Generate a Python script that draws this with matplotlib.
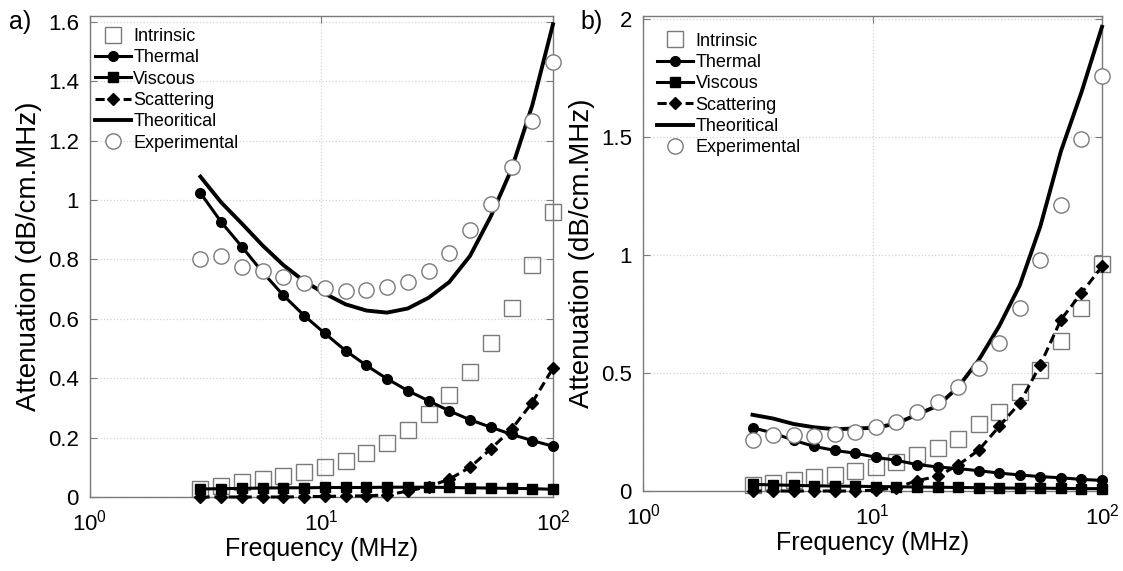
#!/usr/bin/env python3
"""Attenuation vs frequency: contributions (a) and (b)."""
import matplotlib
matplotlib.use("Agg")
import matplotlib.pyplot as plt
from matplotlib.ticker import FuncFormatter

plt.rcParams["font.family"] = ["Liberation Sans", "DejaVu Sans"]
plt.rcParams["mathtext.default"] = "regular"

freq = [3.0, 3.69, 4.53, 5.57, 6.85, 8.42, 10.34, 12.71, 15.63,
        19.21, 23.61, 29.02, 35.66, 43.83, 53.88, 66.22, 81.39, 100.0]

# ---- panel a ----
a_intrinsic = [0.028, 0.038, 0.049, 0.060, 0.071, 0.084, 0.100, 0.121, 0.149,
               0.183, 0.224, 0.279, 0.342, 0.421, 0.518, 0.636, 0.783, 0.961]
a_thermal = [1.024, 0.926, 0.843, 0.757, 0.679, 0.611, 0.551, 0.493, 0.443,
             0.398, 0.358, 0.324, 0.290, 0.260, 0.235, 0.211, 0.190, 0.171]
a_viscous = [0.027, 0.028, 0.029, 0.030, 0.031, 0.031, 0.032, 0.032, 0.032,
             0.033, 0.033, 0.033, 0.032, 0.031, 0.030, 0.029, 0.028, 0.026]
a_scatter = [0.0, 0.0, 0.0, 0.0, 0.0, 0.001, 0.002, 0.003, 0.004,
             0.007, 0.020, 0.035, 0.060, 0.100, 0.162, 0.228, 0.318, 0.434]
a_theory = [1.079, 0.992, 0.921, 0.847, 0.781, 0.727, 0.685, 0.649, 0.628,
            0.621, 0.635, 0.671, 0.724, 0.812, 0.945, 1.104, 1.319, 1.592]
a_exp = [0.802, 0.812, 0.774, 0.760, 0.740, 0.720, 0.703, 0.694, 0.696,
         0.707, 0.725, 0.760, 0.821, 0.900, 0.987, 1.111, 1.267, 1.464]

# ---- panel b ----
b_intrinsic = [0.027, 0.035, 0.045, 0.059, 0.069, 0.085, 0.102, 0.124, 0.151,
               0.181, 0.220, 0.282, 0.336, 0.419, 0.514, 0.634, 0.777, 0.960]
b_thermal = [0.268, 0.246, 0.215, 0.189, 0.172, 0.160, 0.143, 0.130, 0.112,
             0.102, 0.095, 0.086, 0.076, 0.068, 0.061, 0.056, 0.049, 0.045]
b_viscous = [0.028, 0.026, 0.024, 0.022, 0.021, 0.020, 0.019, 0.018, 0.017,
             0.016, 0.015, 0.014, 0.013, 0.012, 0.012, 0.011, 0.010, 0.010]
b_scatter = [0.0, 0.0, 0.0, 0.0, 0.0, 0.0, 0.004, 0.014, 0.044,
             0.062, 0.110, 0.173, 0.274, 0.373, 0.535, 0.726, 0.839, 0.952]
b_theory = [0.323, 0.307, 0.284, 0.270, 0.262, 0.265, 0.268, 0.286, 0.324,
            0.361, 0.440, 0.555, 0.699, 0.872, 1.122, 1.440, 1.690, 1.967]
b_exp = [0.218, 0.236, 0.236, 0.232, 0.243, 0.250, 0.271, 0.292, 0.335,
         0.377, 0.441, 0.521, 0.627, 0.777, 0.977, 1.214, 1.492, 1.759]

GRAY = "#7a7a7a"


def draw(ax, intr, therm, visc, scat, theo, exp, ymax, yticks, leg_anchor):
    ax.plot(freq, intr, ls="none", marker="s", ms=11, mfc="none", mec=GRAY,
            mew=1.0, clip_on=False, label="Intrinsic", zorder=3)
    ax.plot(freq, therm, "-", color="k", lw=2.2, marker="o", ms=7,
            clip_on=False, label="Thermal", zorder=4)
    ax.plot(freq, visc, "-", color="k", lw=2.2, marker="s", ms=7,
            clip_on=False, label="Viscous", zorder=4)
    ax.plot(freq, scat, "--", color="k", lw=2.2, marker="D", ms=6.5,
            dashes=(3, 1.6), clip_on=False, label="Scattering", zorder=4)
    ax.plot(freq, theo, "-", color="k", lw=2.8, clip_on=False,
            label="Theoritical", zorder=5)
    ax.plot(freq, exp, ls="none", marker="o", ms=11, mfc="white", mec=GRAY,
            mew=1.0, clip_on=False, label="Experimental", zorder=6)

    ax.set_xscale("log")
    ax.set_xlim(1, 100)
    ax.set_ylim(0, ymax)
    ax.set_xticks([1, 10, 100])
    ax.minorticks_off()
    ax.set_yticks(yticks)
    ax.yaxis.set_major_formatter(FuncFormatter(lambda v, p: f"{v:g}"))
    ax.tick_params(direction="in", top=True, right=True, length=5,
                   color=GRAY, labelsize=16, pad=8)
    ax.tick_params(axis="x", pad=9)
    for s in ax.spines.values():
        s.set_color(GRAY)
        s.set_linewidth(1.0)
    ax.grid(True, ls=":", color="#d4d4d4", lw=0.9)
    ax.set_axisbelow(True)
    ax.set_xlabel("Frequency (MHz)", fontsize=18, labelpad=1)
    ax.set_ylabel("Attenuation (dB/cm.MHz)", fontsize=20, labelpad=4)
    ax.legend(loc="upper left", bbox_to_anchor=leg_anchor, frameon=False,
              fontsize=13, handlelength=2.0, handletextpad=0.15,
              labelspacing=0.24, borderaxespad=0, borderpad=0, numpoints=1)


fig = plt.figure(figsize=(11.23, 5.71), dpi=100)
ax1 = fig.add_axes([0.0801, 0.1296, 0.4123, 0.8424])
ax2 = fig.add_axes([0.5726, 0.1401, 0.4087, 0.8319])

draw(ax1, a_intrinsic, a_thermal, a_viscous, a_scatter, a_theory, a_exp,
     1.62, [0, 0.2, 0.4, 0.6, 0.8, 1.0, 1.2, 1.4, 1.6], (0.01, 0.975))
draw(ax2, b_intrinsic, b_thermal, b_viscous, b_scatter, b_theory, b_exp,
     2.013, [0, 0.5, 1.0, 1.5, 2.0], (0.03, 0.965))

fig.text(0.008, 0.962, "a)", fontsize=18, ha="left", va="center")
fig.text(0.517, 0.962, "b)", fontsize=18, ha="left", va="center")

plt.savefig("out.png", dpi=100, facecolor="white")
